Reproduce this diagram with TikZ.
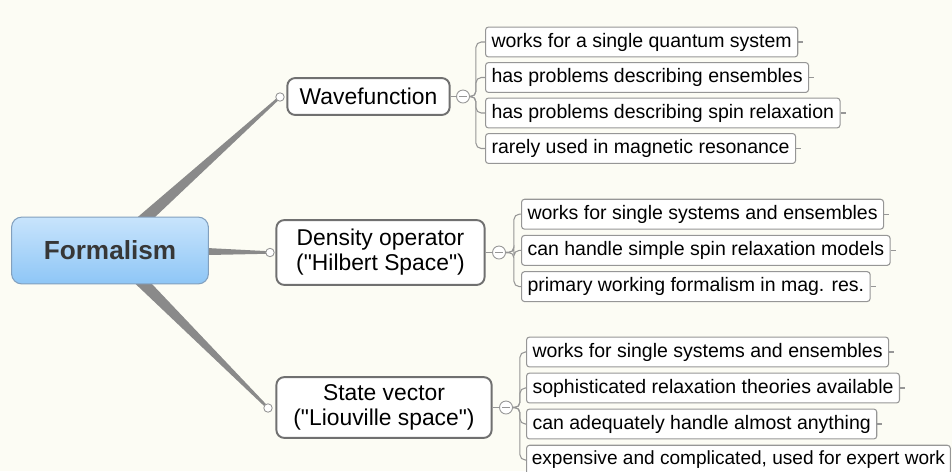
\documentclass[tikz,border=0pt]{standalone}
\usepackage{fontspec}
\setmainfont{Liberation Sans}
\usetikzlibrary{positioning, calc, backgrounds}

\definecolor{bgcream}{RGB}{252,252,244}
\definecolor{roottop}{RGB}{200,228,252}
\definecolor{rootbot}{RGB}{142,198,246}
\definecolor{rootedge}{RGB}{130,160,190}
\definecolor{roottext}{RGB}{55,55,55}
\definecolor{topicedge}{RGB}{112,112,112}
\definecolor{leafedge}{RGB}{150,150,150}
\definecolor{branchgray}{RGB}{138,138,138}

\tikzset{
  rootbox/.style={draw=rootedge, line width=0.6pt, rounded corners=5.7pt,
    top color=roottop, bottom color=rootbot, minimum width=112pt, minimum height=38pt,
    font=\fontsize{14.9}{17}\selectfont\bfseries, text=roottext},
  topic/.style={draw=topicedge, line width=1.1pt, fill=white, rounded corners=4.5pt,
    align=center, font=\fontsize{13}{14.2}\selectfont},
  leaf/.style={draw=leafedge, line width=0.6pt, fill=white, rounded corners=1.7pt,
    anchor=west, inner xsep=3.4pt, minimum height=15.9pt, font=\fontsize{11.1}{12}\selectfont},
  knob/.style={circle, draw=leafedge, fill=white, line width=0.5pt, inner sep=0pt, minimum size=4.8pt},
  fold/.style={circle, draw=leafedge, fill=white, line width=0.5pt, inner sep=0pt, minimum size=7.4pt,
    path picture={\draw[leafedge, line width=0.5pt] ($(path picture bounding box.center)+(-2pt,0)$) -- ++(4pt,0);}},
  twig/.style={draw=leafedge, line width=0.6pt, rounded corners=3pt},
  branch/.style={fill=branchgray}
}

\begin{document}
\begin{tikzpicture}[x=0.02cm, y=-0.02cm]
  \useasboundingbox (0,0) rectangle (952,471);
  \clip (0,0) rectangle (952,471);

  % Nodes
  \coordinate (hub) at (110,250);
  \node[rootbox] (root) at (110,250.5) {Formalism};

  \node[topic, minimum width=92.4pt, minimum height=21pt] (wave) at (368.5,96.5) {Wavefunction};
  \node[topic, minimum width=118.5pt, minimum height=36.9pt] (dens) at (380.5,252.5)
    {Density operator\\(\textquotedbl Hilbert Space\textquotedbl)};
  \node[topic, minimum width=122.5pt, minimum height=34.6pt] (state) at (384,407.5)
    {State vector\\(\textquotedbl Liouville space\textquotedbl)};

  \node[knob] (waveknob) at (280,97) {};
  \node[knob] (densknob) at (270,252.5) {};
  \node[knob] (stateknob) at (268,408) {};

  \node[fold] (wavefold) at (463,96.5) {};
  \node[fold] (densfold) at (499,252.5) {};
  \node[fold] (statefold) at (506,407.5) {};

  \foreach \t [count=\i] in {works for a single quantum system, has problems describing ensembles,
      has problems describing spin relaxation, rarely used in magnetic resonance}
    \node[leaf] (wl\i) at (485,{6.5+35.5*\i}) {\t};
  \foreach \t [count=\i] in {works for single systems and ensembles, can handle simple spin relaxation models,
      primary working formalism in mag. res.}
    \node[leaf] (dl\i) at (521,{178+36.2*\i}) {\t};
  \foreach \t [count=\i] in {works for single systems and ensembles, sophisticated relaxation theories available,
      can adequately handle almost anything}
    \node[leaf] (sl\i) at (526,{316+36*\i}) {\t};
  \node[leaf, inner xsep=3pt, font=\fontsize{10.85}{12}\selectfont] (sl4) at (526,460)
    {expensive and complicated, used for expert work};

  % Connectors
  \begin{scope}[on background layer]
    \fill[bgcream] (0,0) rectangle (952,471);
    \foreach \k in {waveknob, densknob, stateknob}
      \fill[branch] ($(hub)!4pt!90:(\k)$) -- ($(\k)!0.7pt!-90:(hub)$)
        -- ($(\k)!0.7pt!90:(hub)$) -- ($(hub)!4pt!-90:(\k)$) -- cycle;

    \draw[twig] (wave.east) -- (wavefold.west);
    \draw[twig] (dens.east) -- (densfold.west);
    \draw[twig] (state.east) -- (statefold.west);

    \foreach \i in {1,...,4}
      \draw[twig] (wavefold.east) -- ($(wavefold.east)+(6,0)$) |- (wl\i.west);
    \foreach \i in {1,...,3}
      \draw[twig] (densfold.east) -- ($(densfold.east)+(8,0)$) |- (dl\i.west);
    \foreach \i in {1,...,4}
      \draw[twig] (statefold.east) -- ($(statefold.east)+(7,0)$) |- (sl\i.west);

    \foreach \n in {wl1,wl2,wl3,wl4,dl1,dl2,dl3,sl1,sl2,sl3}
      \draw[twig] (\n.east) -- ++(5,0);
  \end{scope}
\end{tikzpicture}
\end{document}
